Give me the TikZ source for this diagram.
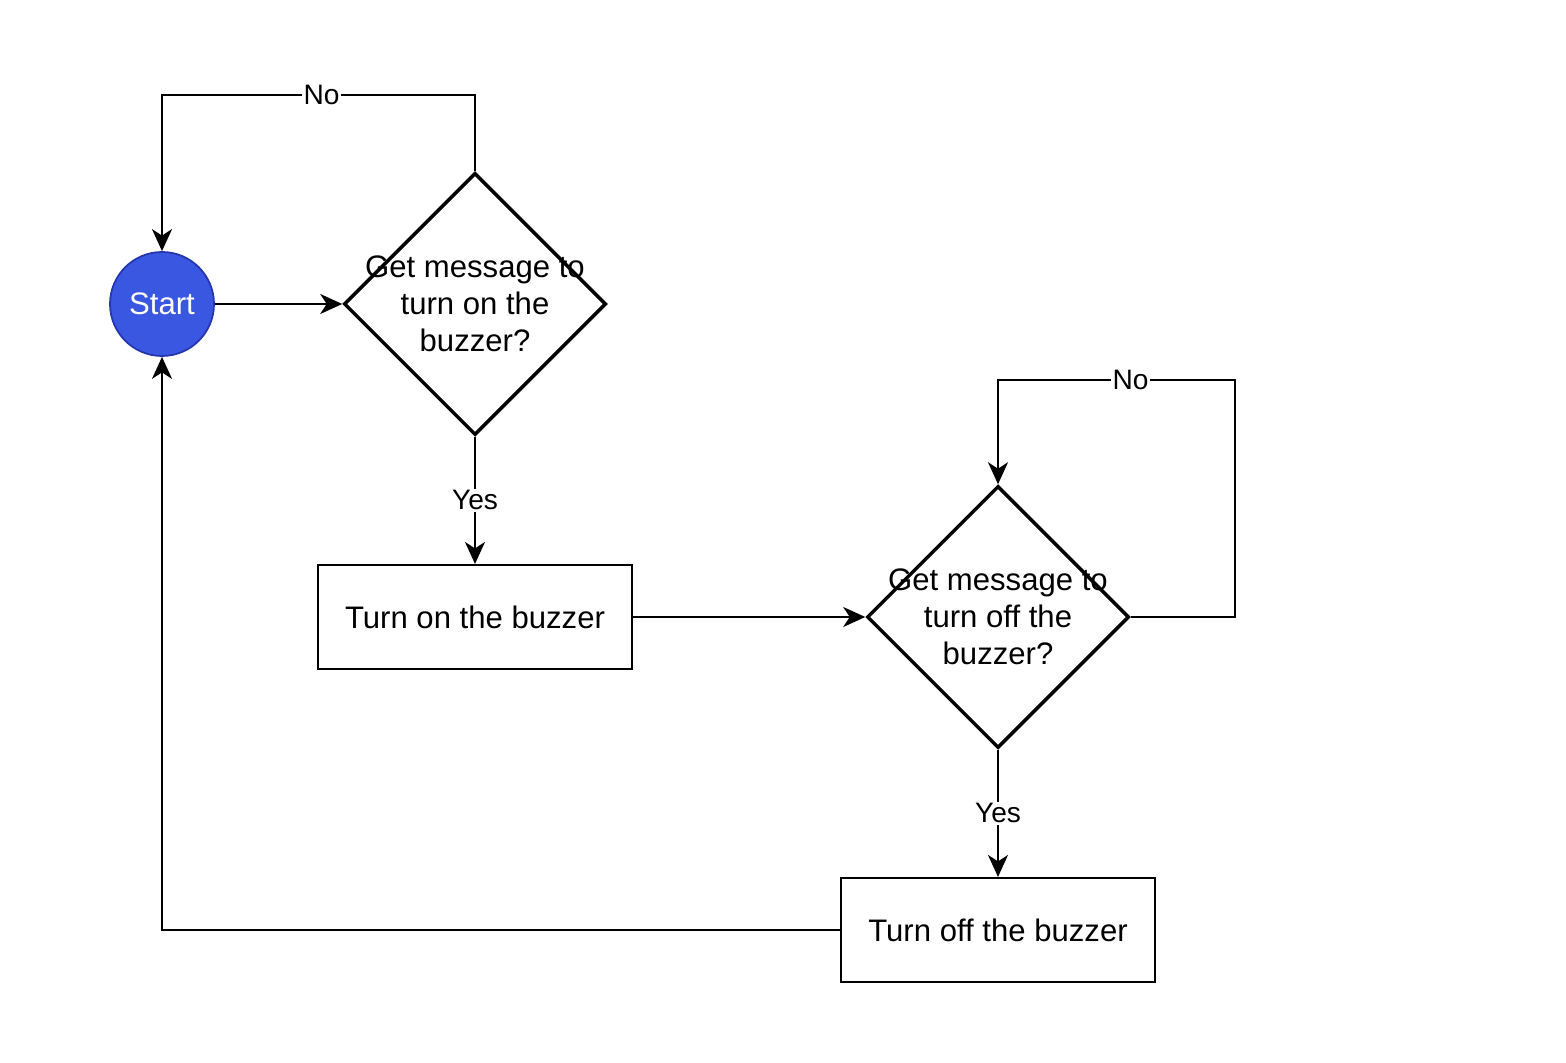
\documentclass[tikz,border=0pt]{standalone}
\usepackage{fontspec}
\setmainfont{Liberation Sans}
\usetikzlibrary{shapes.geometric}
\usetikzlibrary{arrows.meta}
\definecolor{startblue}{HTML}{3A57E2}
\definecolor{startedge}{HTML}{2536AE}

\begin{document}
\begin{tikzpicture}[
	arr/.style={line width=1.2pt,-{Stealth[length=0.44cm,width=0.4cm,inset=0.13cm]}},
	lbl/.style={fill=white,inner sep=1pt,font=\fontsize{16}{19}\selectfont},
	dec/.style={diamond,draw,line width=2pt,minimum width=5.24cm,minimum height=5.24cm,inner sep=0pt,
		label={[align=center,font=\fontsize{17.7}{21}\selectfont]center:#1}},
	act/.style={rectangle,draw,line width=1.2pt,minimum width=6.28cm,minimum height=2.08cm,
		font=\fontsize{17.7}{21}\selectfont}]
	\useasboundingbox (0,0) rectangle (31.32,21.24);
	\node[circle,draw=startedge,fill=startblue,line width=1pt,minimum size=2.08cm,inner sep=0pt,
		text=white,font=\fontsize{17.7}{21}\selectfont] (start) at (3.24,15.16) {Start};
	\node[dec={Get message to\\turn on the\\buzzer?}] (ask1) at (9.5,15.16) {};
	\node[act] (buzzon) at (9.5,8.9) {Turn on the buzzer};
	\node[dec={Get message to\\turn off the\\buzzer?}] (ask2) at (19.96,8.9) {};
	\node[act] (buzzoff) at (19.96,2.64) {Turn off the buzzer};
	\draw[arr] (start) -- (ask1);
	\draw[arr] (ask1.north) -- ++(0,1.52) -- node[lbl,pos=0.49] {No} ++(-6.26,0) -- (start.north);
	\draw[arr] (ask1.south) -- node[lbl] {Yes} (buzzon.north);
	\draw[arr] (buzzon) -- (ask2);
	\draw[arr] (ask2.east) -- ++(2.08,0) |- node[lbl,pos=0.72] {No} ([yshift=2.08cm]ask2.north) -- (ask2.north);
	\draw[arr] (ask2.south) -- node[lbl] {Yes} (buzzoff.north);
	\draw[arr] (buzzoff.west) -| (start.south);
\end{tikzpicture}
\end{document}
